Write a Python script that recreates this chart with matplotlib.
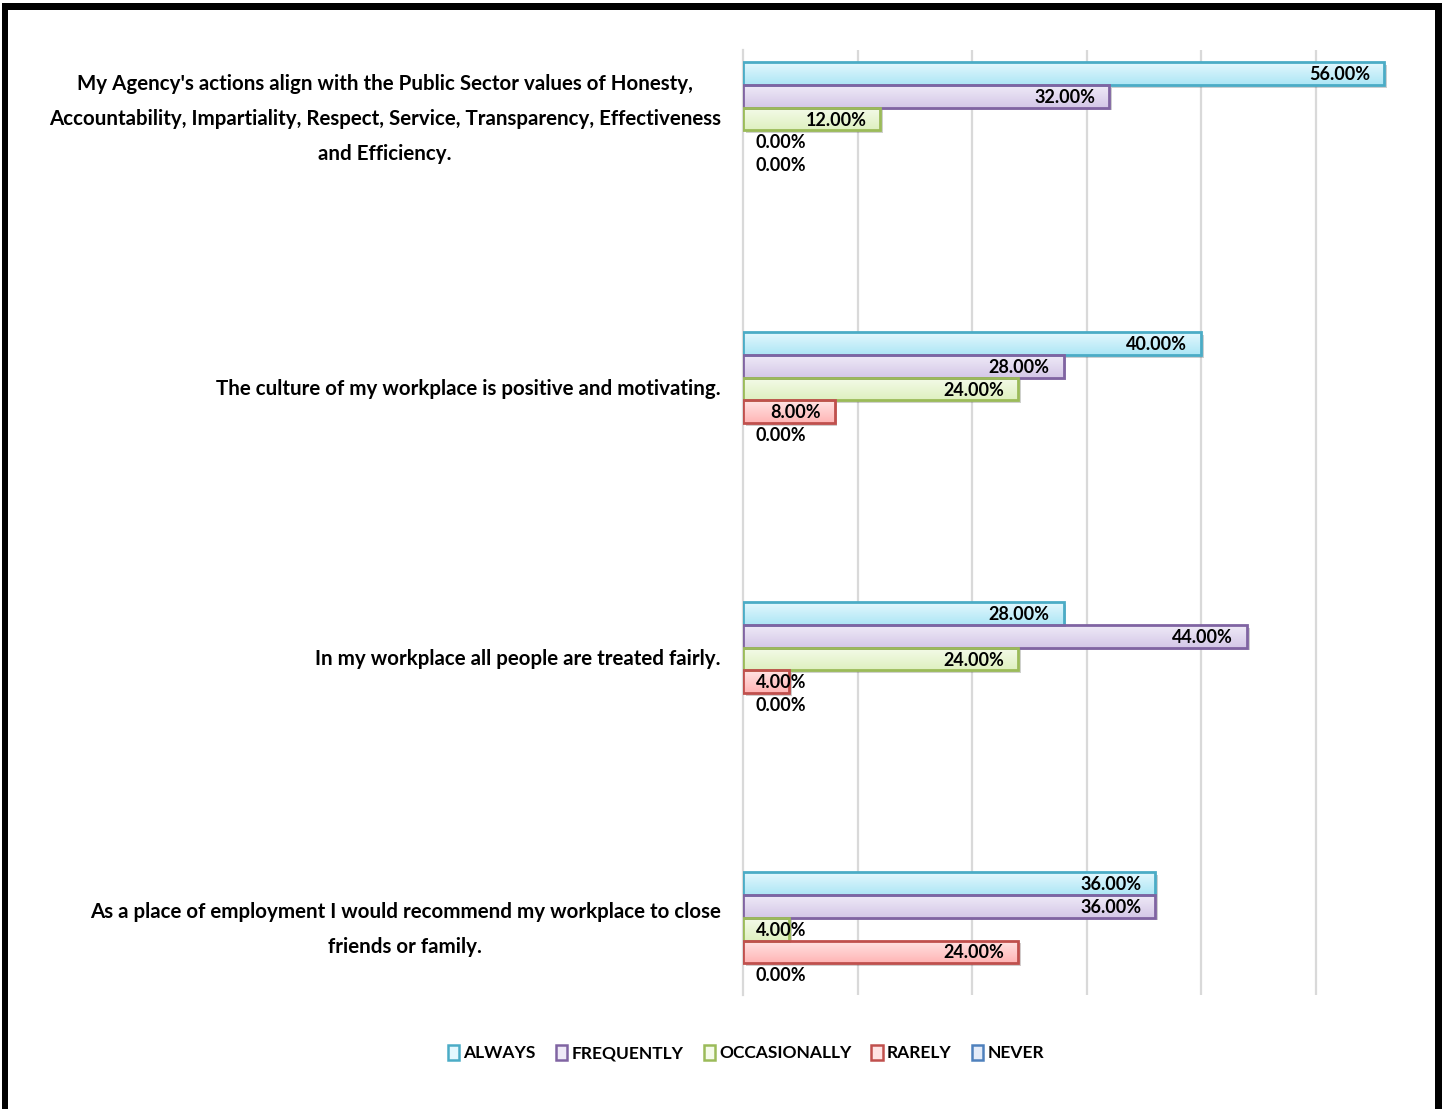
import numpy as np
import matplotlib
matplotlib.use("Agg")
import matplotlib.pyplot as plt
from matplotlib.patches import Patch, Rectangle
from matplotlib import patheffects as pe
from matplotlib.colors import LinearSegmentedColormap

plt.rcParams["font.family"] = ["Lato", "DejaVu Sans"]
plt.rcParams["font.weight"] = "bold"

QUESTIONS = [
    "My Agency's actions align with the Public Sector values of Honesty,\n"
    "Accountability, Impartiality, Respect, Service, Transparency, Effectiveness\n"
    "and Efficiency.",
    "The culture of my workplace is positive and motivating.",
    "In my workplace all people are treated fairly.",
    "As a place of employment I would recommend my workplace to close\n"
    "friends or family.",
]
RESPONSES = ["ALWAYS", "FREQUENTLY", "OCCASIONALLY", "RARELY", "NEVER"]

always = [0.56, 0.40, 0.28, 0.36]
frequently = [0.32, 0.28, 0.44, 0.36]
occasionally = [0.12, 0.24, 0.24, 0.04]
rarely = [0.00, 0.08, 0.04, 0.24]
never = [0.00, 0.00, 0.00, 0.00]
series = [always, frequently, occasionally, rarely, never]

edges = ["#4bacc6", "#8064a2", "#9bbb59", "#c0504d", "#4f81bd"]
fills_top = ["#e4f8fe", "#efeaf7", "#f5fbea", "#ffe4e4", "#e4ecf9"]
fills_bot = ["#ade6f5", "#d4c7e7", "#def0c0", "#ffb5b5", "#bccff0"]

fig = plt.figure(figsize=(14.42, 11.09), dpi=100)
ax = fig.add_axes([743 / 1442, 1 - 995 / 1109, 687 / 1442, 945 / 1109])

y = np.arange(len(QUESTIONS))
h = 0.0845
shadow = [pe.SimplePatchShadow(offset=(2, -2), alpha=0.25), pe.Normal()]

bars_all = []
for k, (vals, name) in enumerate(zip(series, RESPONSES)):
    pos = y + (k - 2) * h
    # base fill with drop shadow, gradient on top, then the outline
    base = ax.barh(pos, vals, height=h, color=fills_bot[k], linewidth=0, zorder=2)
    outline = ax.barh(pos, vals, height=h, facecolor="none", edgecolor=edges[k],
                      linewidth=2, label=name, zorder=4)
    grad = LinearSegmentedColormap.from_list(name, [fills_top[k], fills_bot[k]])
    for b, o in zip(base, outline):
        if b.get_width() <= 0:
            b.set_visible(False)
            o.set_visible(False)
            continue
        b.set_path_effects(shadow)
        x0, y0 = b.get_x(), b.get_y()
        im = ax.imshow(np.linspace(0, 1, 64).reshape(-1, 1), cmap=grad,
                       aspect="auto", interpolation="bicubic",
                       extent=(x0, x0 + b.get_width(), y0 + b.get_height(), y0),
                       zorder=3)
        im.set_clip_path(b)
    bars_all.append((outline, vals))

ax.set_xlim(0, 0.6)
ax.set_ylim(3.244, -0.2556)
ax.set_xticks([0.1, 0.2, 0.3, 0.4, 0.5])
ax.xaxis.grid(True, color="#d9d9d9", linewidth=1.6, zorder=0)
ax.tick_params(axis="x", length=0, labelbottom=False)
ax.set_yticks(y)
ax.set_yticklabels(QUESTIONS, fontsize=14.8, multialignment="center",
                   linespacing=1.95, va="center")
ax.tick_params(axis="y", length=0, pad=16)
for side in ["top", "right", "bottom"]:
    ax.spines[side].set_visible(False)
ax.spines["left"].set_color("#d9d9d9")
ax.spines["left"].set_linewidth(1.6)
ax.set_axisbelow(True)

# value labels: inside the bar end, pushed right when the bar is too short
fig.canvas.draw()
renderer = fig.canvas.get_renderer()
for bars, vals in bars_all:
    for b, v in zip(bars, vals):
        yc = b.get_y() + b.get_height() / 2
        t = ax.annotate(f"{v:.2%}", (v, yc), xytext=(-14, -1),
                        textcoords="offset pixels", ha="right", va="center",
                        fontsize=13, zorder=5)
        w = t.get_window_extent(renderer).width
        bar_px = ax.transData.transform((v, 0))[0] - ax.transData.transform((0, 0))[0]
        if bar_px - 14 - w < 13:
            t.remove()
            ax.annotate(f"{v:.2%}", (0, yc), xytext=(13, -1),
                        textcoords="offset pixels", ha="left", va="center",
                        fontsize=13, zorder=5)

handles = [Patch(facecolor=fills_top[k], edgecolor=edges[k], linewidth=1.8,
                 label=RESPONSES[k]) for k in range(5)]
fig.legend(handles=handles, loc="center", bbox_to_anchor=(746 / 1442, 1 - 1053 / 1109),
           ncol=5, frameon=False, fontsize=12.5, handlelength=0.65,
           handleheight=0.95, handletextpad=0.25, columnspacing=1.15)

# outer frame
frame = dict(transform=fig.transFigure, facecolor="black", edgecolor="none",
             zorder=10)
fig.patches.append(Rectangle((2 / 1442, 0), 6 / 1442, 1 - 3 / 1109, **frame))
fig.patches.append(Rectangle((2 / 1442, 1 - 10 / 1109), 1436 / 1442, 7 / 1109, **frame))
fig.patches.append(Rectangle((1435 / 1442, 0), 7 / 1442, 1 - 3 / 1109, **frame))

fig.savefig("out.png", dpi=100)
